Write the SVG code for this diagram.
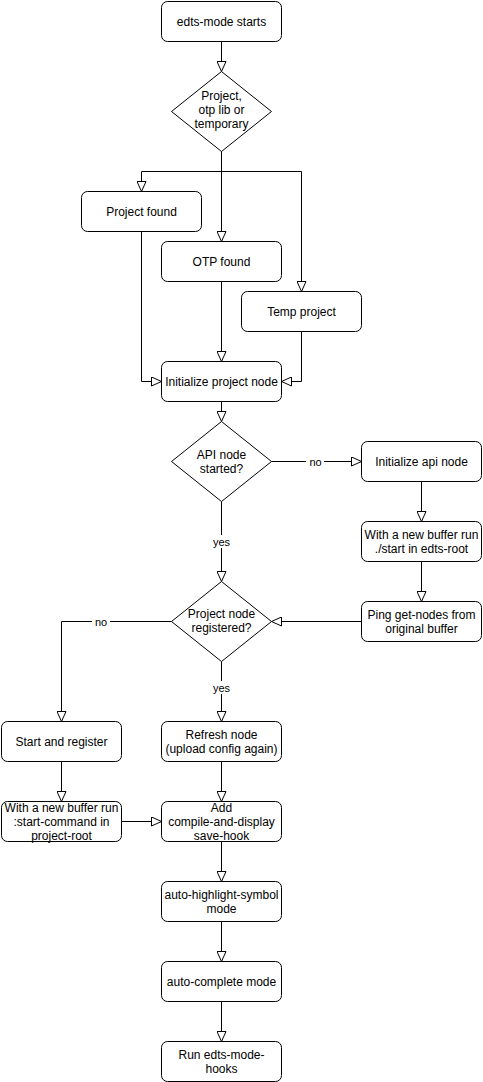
<svg xmlns="http://www.w3.org/2000/svg" width="483" height="1082" viewBox="0 0 483 1082">
  <style>
    .box { fill: #ffffff; stroke: #000000; stroke-width: 1; }
    .lbl { font-family: "Liberation Sans", Arial, sans-serif; font-size: 12px; fill: #000000; text-anchor: middle; }
    .elbl { font-family: "Liberation Sans", Arial, sans-serif; font-size: 11px; fill: #000000; text-anchor: middle; }
    .edge { fill: none; stroke: #000000; stroke-width: 1; marker-end: url(#arrow); }
    .plain { fill: none; stroke: #000000; stroke-width: 1; }
    .lblbg { fill: #ffffff; }
  </style>
  <defs>
    <marker id="arrow" viewBox="0 0 11 10" markerWidth="11" markerHeight="10" refX="10.5" refY="5" orient="auto" markerUnits="userSpaceOnUse">
      <path d="M0.5,0.5 L10.5,5 L0.5,9.5 Z" fill="#ffffff" stroke="#000000" stroke-width="1"/>
    </marker>
  </defs>
  <rect width="483" height="1082" fill="#ffffff"/>

  <!-- connectors -->
  <g id="connectors">
    <path class="edge" d="M221.5,41.5 V71.5"/>
    <path class="edge" d="M221.5,151.5 V171.5 H141.5 V191.5"/>
    <path class="edge" d="M221.5,151.5 V241.5"/>
    <path class="edge" d="M221.5,151.5 V171.5 H301.5 V291.5"/>
    <path class="edge" d="M141.5,231.5 V381.5 H161.5"/>
    <path class="edge" d="M221.5,281.5 V361.5"/>
    <path class="edge" d="M301.5,331.5 V381.5 H281.5"/>
    <path class="edge" d="M221.5,401.5 V421.5"/>
    <path class="edge" d="M271.5,461.5 H361.5"/>
    <path class="edge" d="M421.5,481.5 V521.5"/>
    <path class="edge" d="M421.5,561.5 V601.5"/>
    <path class="edge" d="M361.5,621.5 H271.5"/>
    <path class="edge" d="M221.5,501.5 V581.5"/>
    <path class="edge" d="M171.5,621.5 H61.5 V721.5"/>
    <path class="edge" d="M221.5,661.5 V721.5"/>
    <path class="edge" d="M61.5,761.5 V801.5"/>
    <path class="edge" d="M221.5,761.5 V801.5"/>
    <path class="edge" d="M121.5,821.5 H161.5"/>
    <path class="edge" d="M221.5,841.5 V881.5"/>
    <path class="edge" d="M221.5,921.5 V961.5"/>
    <path class="edge" d="M221.5,1001.5 V1041.5"/>
    <!-- edge labels -->
    <rect class="lblbg" x="306" y="455" width="18" height="13"/>
    <text class="elbl" x="315.5" y="465.5">no</text>
    <rect class="lblbg" x="211" y="535" width="21" height="13"/>
    <text class="elbl" x="221.5" y="545.5">yes</text>
    <rect class="lblbg" x="92" y="615" width="18" height="13"/>
    <text class="elbl" x="101" y="625.5">no</text>
    <rect class="lblbg" x="211" y="681" width="21" height="13"/>
    <text class="elbl" x="221.5" y="691.5">yes</text>
  </g>

  <g id="start">
    <rect class="box" x="161.5" y="1.5" width="120" height="40" rx="6"/>
    <text class="lbl" x="221.5" y="25.5">edts-mode starts</text>
  </g>
  <g id="project-kind">
    <path class="box" d="M221.5,71.5 L271.5,111.5 L221.5,151.5 L171.5,111.5 Z"/>
    <text class="lbl" x="221.5" y="100">Project,</text>
    <text class="lbl" x="221.5" y="114">otp lib or</text>
    <text class="lbl" x="221.5" y="128">temporary</text>
  </g>
  <g id="project-found">
    <rect class="box" x="81.5" y="191.5" width="120" height="40" rx="6"/>
    <text class="lbl" x="141.5" y="215.5">Project found</text>
  </g>
  <g id="otp-found">
    <rect class="box" x="161.5" y="241.5" width="120" height="40" rx="6"/>
    <text class="lbl" x="221.5" y="265.5">OTP found</text>
  </g>
  <g id="temp-project">
    <rect class="box" x="241.5" y="291.5" width="120" height="40" rx="6"/>
    <text class="lbl" x="301.5" y="315.5">Temp project</text>
  </g>
  <g id="init-project-node">
    <rect class="box" x="161.5" y="361.5" width="120" height="40" rx="6"/>
    <text class="lbl" x="221.5" y="385.5">Initialize project node</text>
  </g>
  <g id="api-started">
    <path class="box" d="M221.5,421.5 L271.5,461.5 L221.5,501.5 L171.5,461.5 Z"/>
    <text class="lbl" x="221.5" y="458.5">API node</text>
    <text class="lbl" x="221.5" y="472.5">started?</text>
  </g>
  <g id="init-api-node">
    <rect class="box" x="361.5" y="441.5" width="120" height="40" rx="6"/>
    <text class="lbl" x="421.5" y="465.5">Initialize api node</text>
  </g>
  <g id="run-start">
    <rect class="box" x="361.5" y="521.5" width="120" height="40" rx="6"/>
    <text class="lbl" x="421.5" y="538.5">With a new buffer run</text>
    <text class="lbl" x="421.5" y="552.5">./start in edts-root</text>
  </g>
  <g id="ping-get-nodes">
    <rect class="box" x="361.5" y="601.5" width="120" height="40" rx="6"/>
    <text class="lbl" x="421.5" y="618.5">Ping get-nodes from</text>
    <text class="lbl" x="421.5" y="632.5">original buffer</text>
  </g>
  <g id="project-registered">
    <path class="box" d="M221.5,581.5 L271.5,621.5 L221.5,661.5 L171.5,621.5 Z"/>
    <text class="lbl" x="221.5" y="617.5">Project node</text>
    <text class="lbl" x="221.5" y="631.5">registered?</text>
  </g>
  <g id="start-register">
    <rect class="box" x="1.5" y="721.5" width="120" height="40" rx="6"/>
    <text class="lbl" x="61.5" y="745.5">Start and register</text>
  </g>
  <g id="refresh-node">
    <rect class="box" x="161.5" y="721.5" width="120" height="40" rx="6"/>
    <text class="lbl" x="221.5" y="738.5">Refresh node</text>
    <text class="lbl" x="221.5" y="752.5">(upload config again)</text>
  </g>
  <g id="run-start-command">
    <rect class="box" x="1.5" y="801.5" width="120" height="40" rx="6"/>
    <text class="lbl" x="61.5" y="811.5">With a new buffer run</text>
    <text class="lbl" x="61.5" y="825.5">:start-command in</text>
    <text class="lbl" x="61.5" y="839.5">project-root</text>
  </g>
  <g id="save-hook">
    <rect class="box" x="161.5" y="801.5" width="120" height="40" rx="6"/>
    <text class="lbl" x="221.5" y="811.5">Add</text>
    <text class="lbl" x="221.5" y="825.5">compile-and-display</text>
    <text class="lbl" x="221.5" y="839.5">save-hook</text>
  </g>
  <g id="auto-highlight">
    <rect class="box" x="161.5" y="881.5" width="120" height="40" rx="6"/>
    <text class="lbl" x="221.5" y="898.5">auto-highlight-symbol</text>
    <text class="lbl" x="221.5" y="912.5">mode</text>
  </g>
  <g id="auto-complete">
    <rect class="box" x="161.5" y="961.5" width="120" height="40" rx="6"/>
    <text class="lbl" x="221.5" y="985.5">auto-complete mode</text>
  </g>
  <g id="mode-hooks">
    <rect class="box" x="161.5" y="1041.5" width="120" height="40" rx="6"/>
    <text class="lbl" x="221.5" y="1058.5">Run edts-mode-</text>
    <text class="lbl" x="221.5" y="1072.5">hooks</text>
  </g>
</svg>
